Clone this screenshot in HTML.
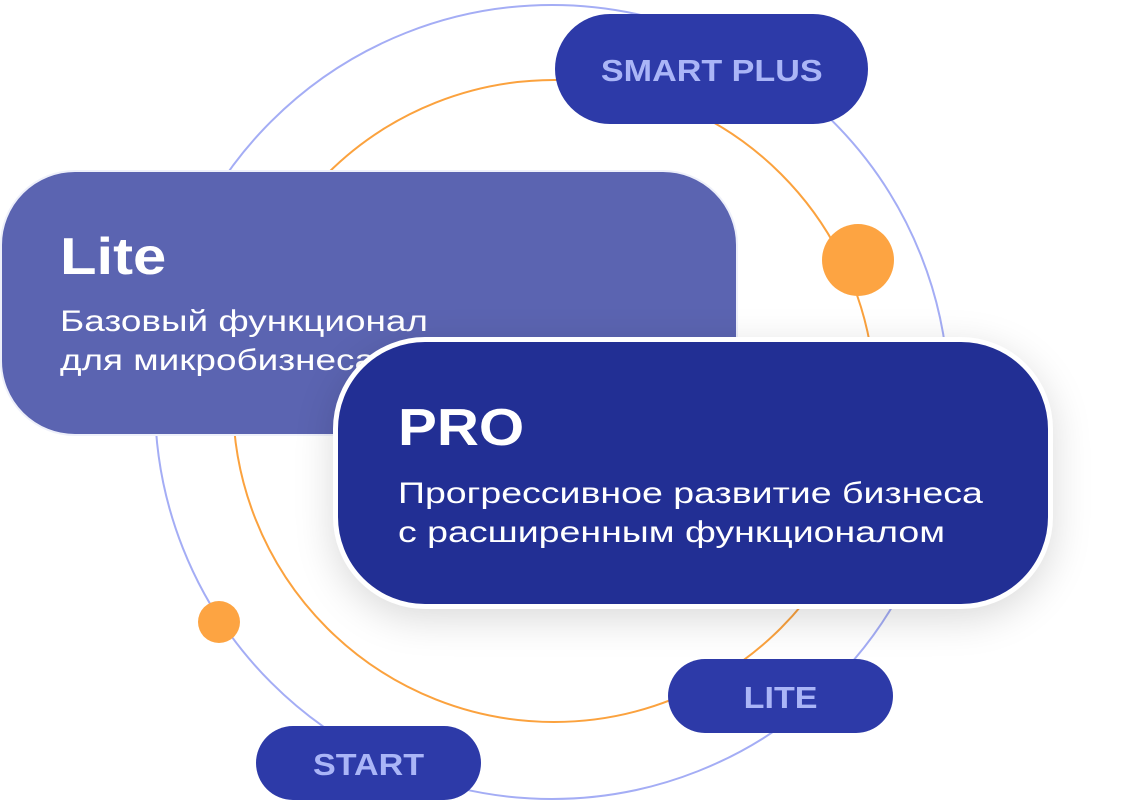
<!DOCTYPE html>
<html><head><meta charset="utf-8"><style>
body{margin:0;width:1137px;height:802px;background:#fff;position:relative;overflow:hidden;font-family:"Liberation Sans","DejaVu Sans",sans-serif}
.abs{position:absolute}
.pill{position:absolute;background:#2d3aa8;color:#aab5f7;font-weight:bold;display:flex;align-items:center;justify-content:center;border-radius:60px;box-sizing:border-box;padding-top:4px}
.pill span{display:inline-block;transform:scaleX(1.1)}
.card{position:absolute;color:#fff;box-sizing:border-box}
.t{font-weight:bold;font-size:52px;position:absolute;transform-origin:left center}
.s{font-size:30px;line-height:39px;position:absolute;white-space:nowrap;transform-origin:left top}
</style></head><body>
<svg class="abs" style="left:0;top:0" width="1137" height="802">
<circle cx="552" cy="402" r="397" fill="none" stroke="#a4adf5" stroke-width="2"/>
<circle cx="554" cy="401" r="321" fill="none" stroke="#fba23e" stroke-width="2"/>
<circle cx="858" cy="260" r="36" fill="#fda442"/>
<circle cx="219" cy="622" r="21" fill="#fda442"/>
</svg>
<div class="pill" style="left:555px;top:14px;width:313px;height:110px;font-size:31px"><span>SMART PLUS</span></div>
<div class="pill" style="left:668px;top:659px;width:225px;height:74px;font-size:31px"><span>LITE</span></div>
<div class="pill" style="left:256px;top:726px;width:225px;height:74px;font-size:31px"><span>START</span></div>
<div class="card" style="left:0;top:170px;width:738px;height:266px;border-radius:75px;background:#5b64b1;border:2px solid #eef0fa">
<div class="t" style="left:58px;top:55px;transform:scaleX(1.15)">Lite</div>
<div class="s" style="left:58px;top:130px;transform:scaleX(1.23)">Базовый функционал<br>для микробизнеса</div>
</div>
<div class="card" style="left:333px;top:337px;width:720px;height:272px;border-radius:92px;background:#222f94;border:5px solid #fff;box-shadow:0 10px 40px rgba(0,0,0,0.15)">
<div class="t" style="left:60px;top:56px;transform:scaleX(1.12)">PRO</div>
<div class="s" style="left:60px;top:132px;transform:scaleX(1.25)">Прогрессивное развитие бизнеса<br>с расширенным функционалом</div>
</div>
</body></html>
